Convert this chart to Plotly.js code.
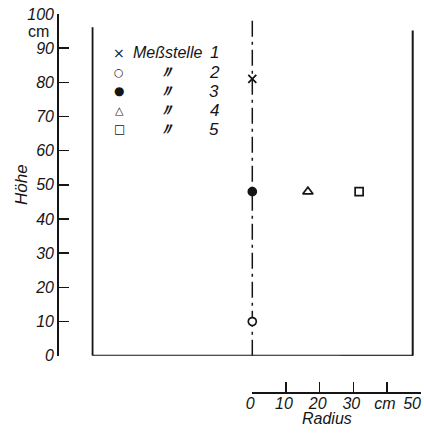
<!DOCTYPE html>
<html><head><meta charset="utf-8">
<script src="https://cdn.plot.ly/plotly-3.0.1.min.js"></script>
<style>body{margin:0;background:#fff}#c{width:424px;height:433px}</style>
</head><body><div id="c"></div>
<script>
// Data
const labels = ['Meßstelle 1', '〃 2', '〃 3', '〃 4', '〃 5'];
const radius = [0, 0, 0, 16.5, 31.7];     // cm
const height = [81, 10, 48, 48, 48];      // cm
const symbols = ['x-thin-open', 'circle', 'circle', 'triangle-up', 'square'];
const fills = ['#151515', '#fff', '#151515', '#fff', '#fff'];
const yTicks = [0, 10, 20, 30, 40, 50, 60, 70, 80, 90, 100];
const xTicks = [0, 10, 20, 30, 40, 50];
const xTickText = ['0', '10', '20', '30', 'cm', '50\u00a0\u00a0\u00a0'];
const vesselR = [-47.4, 47.6];
const wallTop = [96.1, 95.2];
const axisTop = 98.4;

const FONT = 'Liberation Sans, Arial, sans-serif';
const INK = '#151515';

const traces = labels.map((lab, i) => ({
  type: 'scatter', mode: 'markers', name: lab,
  x: [radius[i]], y: [height[i]], xaxis: 'x', yaxis: 'y',
  cliponaxis: false, showlegend: false,
  marker: {
    symbol: symbols[i],
    size: i === 0 ? 8 : (i === 2 ? 8 : (i === 3 ? 9 : 8)),
    color: fills[i],
    line: {color: INK, width: i === 0 ? 1.8 : 1.7}
  }
}));
// helper trace so the radius axis is drawn
traces.push({type: 'scatter', mode: 'markers', x: [0, 50], y: [null, null], xaxis: 'x2', yaxis: 'y', showlegend: false, hoverinfo: 'skip'});

const shapes = [
  {type: 'line', xref: 'x', yref: 'y', x0: vesselR[0], x1: vesselR[0], y0: 0, y1: wallTop[0], line: {color: INK, width: 1.8}, layer: 'below'},
  {type: 'line', xref: 'x', yref: 'y', x0: vesselR[1], x1: vesselR[1], y0: -0.3, y1: wallTop[1], line: {color: INK, width: 2}, layer: 'below'},
  {type: 'line', xref: 'x', yref: 'y', x0: vesselR[0], x1: vesselR[1], y0: 0, y1: 0, line: {color: INK, width: 2}, layer: 'below'},
  {type: 'line', xref: 'x', yref: 'y', x0: 26, x1: vesselR[1], y0: -0.3, y1: -0.3, line: {color: INK, width: 2.6}, layer: 'below'},
  {type: 'line', xref: 'x', yref: 'y', x0: 0, x1: 0, y0: 0, y1: axisTop, line: {color: INK, width: 1.5, dash: '16px,5px,3px,5px'}, layer: 'below'}
];

// legend built from the labels
const rowsPx = [53, 72, 91, 110, 129];
const glyphs = ['×', '○', '●', '△', '□'];
const glyphSize = [14, 11, 12, 11, 12];
const P = (px) => (392 - px) / 378;
const X = (px) => (px - 59) / 362;
const ann = [];
labels.forEach((lab, i) => {
  ann.push({xref: 'paper', yref: 'paper', x: X(119), y: P(rowsPx[i]), text: glyphs[i], showarrow: false,
    font: {family: 'DejaVu Sans', size: glyphSize[i], color: INK}, xanchor: 'center', yanchor: 'middle'});
  const parts = lab.split(' ');
  if (i === 0) {
    ann.push({xref: 'paper', yref: 'paper', x: X(131), y: P(rowsPx[i]), text: parts[0], showarrow: false,
      font: {family: FONT, size: 16, color: INK, style: 'italic'}, xanchor: 'left', yanchor: 'middle'});
  } else {
    ann.push({xref: 'paper', yref: 'paper', x: X(166), y: P(rowsPx[i]), text: parts[0], showarrow: false,
      font: {family: 'DejaVu Sans', size: 17, color: INK, style: 'italic', weight: 'bold'}, xanchor: 'center', yanchor: 'middle'});
  }
  ann.push({xref: 'paper', yref: 'paper', x: X(214), y: P(rowsPx[i]), text: parts[1], showarrow: false,
    font: {family: FONT, size: 17, color: INK, style: 'italic'}, xanchor: 'center', yanchor: 'middle'});
});
ann.push({xref: 'paper', yref: 'y', x: 0, xshift: -8, y: 95, text: 'cm', showarrow: false,
  font: {family: FONT, size: 16, color: INK}, xanchor: 'right', yanchor: 'middle'});
ann.push({xref: 'x2', yref: 'paper', x: 22.1, y: P(418), text: 'Radius', showarrow: false,
  font: {family: FONT, size: 16, color: INK, style: 'italic'}, xanchor: 'center', yanchor: 'middle'});
ann.push({xref: 'paper', yref: 'paper', x: X(22), y: P(185), text: 'Höhe', textangle: -90, showarrow: false,
  font: {family: FONT, size: 17, color: INK, style: 'italic'}, xanchor: 'center', yanchor: 'middle'});

const layout = {
  width: 424, height: 433,
  margin: {l: 59, r: 3, t: 14, b: 41},
  paper_bgcolor: '#fff', plot_bgcolor: 'rgba(0,0,0,0)',
  showlegend: false,
  xaxis: {range: [-57.36, 50.06], visible: false, domain: [0, 1], anchor: 'y', showgrid: false, zeroline: false},
  xaxis2: {
    range: [0, 50], domain: [0.534, 0.9992], anchor: 'free', position: 0,
    tickvals: xTicks, ticktext: xTickText, ticks: 'inside', ticklen: 10, tickwidth: 1.5, tickcolor: INK,
    showline: true, linewidth: 1.5, linecolor: INK, showgrid: false, zeroline: false,
    ticklabelshift: -2, ticklabelstandoff: -4, ticklabeloverflow: 'allow',
    tickfont: {family: FONT, size: 16, color: INK, style: 'italic'}
  },
  yaxis: {
    range: [0, 100], domain: [0.096, 1], anchor: 'x',
    tickvals: yTicks, ticks: 'inside', ticklen: 10, tickwidth: 1.5, tickcolor: INK,
    showline: true, linewidth: 1.8, linecolor: INK, showgrid: false, zeroline: false,
    tickfont: {family: FONT, size: 16, color: INK, style: 'italic'}
  },
  shapes: shapes,
  annotations: ann
};
Plotly.newPlot('c', traces, layout, {displayModeBar: false, staticPlot: true});
</script></body></html>
